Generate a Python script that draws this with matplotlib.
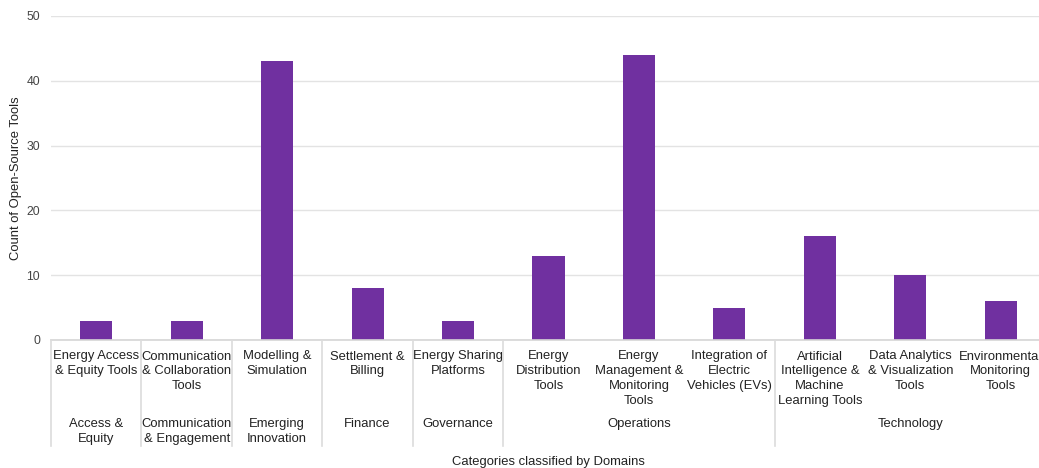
import matplotlib
matplotlib.use("Agg")
import matplotlib.pyplot as plt
import matplotlib.transforms as mtransforms
from matplotlib.lines import Line2D

plt.rcParams['font.family'] = ['Liberation Sans', 'DejaVu Sans']

categories = [
    "Energy Access\n& Equity Tools",
    "Communication\n& Collaboration\nTools",
    "Modelling &\nSimulation",
    "Settlement &\nBilling",
    "Energy Sharing\nPlatforms",
    "Energy\nDistribution\nTools",
    "Energy\nManagement &\nMonitoring\nTools",
    "Integration of\nElectric\nVehicles (EVs)",
    "Artificial\nIntelligence &\nMachine\nLearning Tools",
    "Data Analytics\n& Visualization\nTools",
    "Environmental\nMonitoring\nTools",
]
values = [3, 3, 43, 8, 3, 13, 44, 5, 16, 10, 6]
domains = ["Access &\nEquity", "Communication\n& Engagement", "Emerging\nInnovation",
           "Finance", "Governance", "Operations", "Technology"]
domain_sizes = [1, 1, 1, 1, 1, 3, 3]
yticks = [0, 10, 20, 30, 40, 50]

W, H = 1039, 468
fig = plt.figure(figsize=(W / 100, H / 100), dpi=100)
left_px, right_px, top_px, bottom_px = 51, 1046, 16, 340
ax = fig.add_axes([left_px / W, 1 - bottom_px / H, (right_px - left_px) / W, (bottom_px - top_px) / H])

x = list(range(len(categories)))
ax.bar(x, values, width=0.355, color="#7030A0", zorder=3)
ax.set_xlim(-0.5, len(categories) - 0.5)
ax.set_ylim(0, 50)
ax.set_yticks(yticks)
ax.set_yticklabels([str(t) for t in yticks], fontsize=8.7, color="#444444")
ax.tick_params(axis='y', length=0, pad=8)
ax.set_xticks([])
ax.grid(axis='y', color="#e3e3e3", linewidth=1, zorder=0)
for s in ["top", "right", "left"]:
    ax.spines[s].set_visible(False)
ax.spines["bottom"].set_color("#d6d6d6")
ax.spines["bottom"].set_linewidth(1.2)
ax.spines["bottom"].set_zorder(4)

trans = mtransforms.blended_transform_factory(ax.transData, fig.transFigure)

def fy(px):
    return 1 - px / H

FS = 9.4
LS = 1.3
for xi, lab in zip(x, categories):
    ax.text(xi, fy(350.5), lab, transform=trans, ha='center', va='top', fontsize=FS,
            color="#222222", linespacing=LS, clip_on=False)

start = 0
bounds = [-0.5]
for name, size in zip(domains, domain_sizes):
    center = start + (size - 1) / 2
    ax.text(center, fy(418), name, transform=trans, ha='center', va='top', fontsize=FS,
            color="#222222", linespacing=LS, clip_on=False)
    start += size
    bounds.append(start - 0.5)

for b in bounds[:-1]:
    fig.add_artist(Line2D([b, b], [fy(340), fy(446)], transform=trans, color="#dcdcdc",
                          linewidth=1.2))

fig.text(548 / W, fy(462), "Categories classified by Domains", ha='center', va='center',
         fontsize=FS, color="#222222")
fig.text(16 / W, fy(178), "Count of Open-Source Tools", ha='center', va='center',
         rotation=90, fontsize=FS, color="#222222")

fig.savefig("out.png", dpi=100)
